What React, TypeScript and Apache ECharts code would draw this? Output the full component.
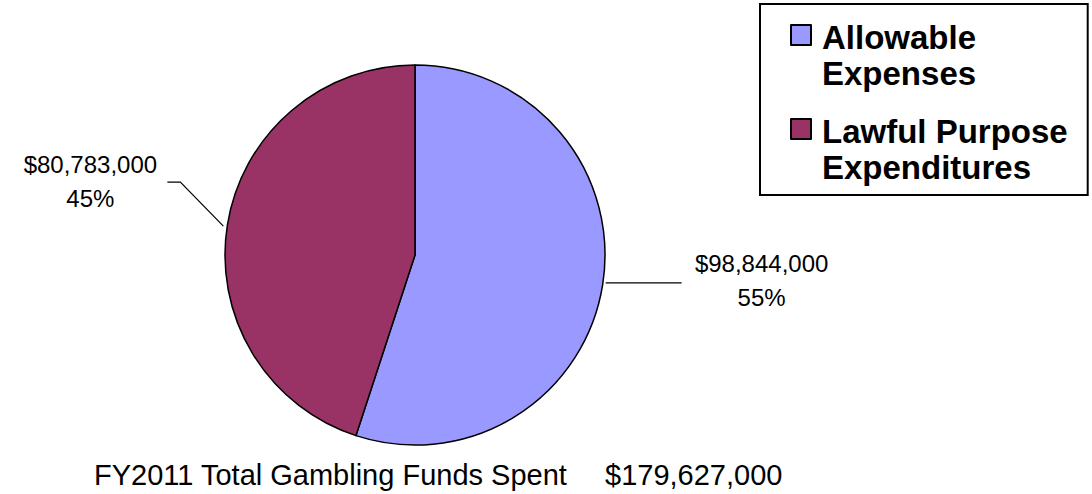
import React, { useEffect, useRef } from "react";
import * as echarts from "echarts";

const categories = ["Allowable Expenses", "Lawful Purpose Expenditures"];
const legendLabels = ["Allowable\nExpenses", "Lawful Purpose\nExpenditures"];
const values = [98844000, 80783000];
const colors = ["#9999FF", "#993366"];
const titleText = "FY2011 Total Gambling Funds Spent";

const fmt = (v: number) => v.toLocaleString("en-US");
const FONT = "Arial, 'Liberation Sans', sans-serif";

export default function App() {
  const ref = useRef<HTMLDivElement>(null);
  useEffect(() => {
    if (!ref.current) return;
    const chart = echarts.init(ref.current, undefined, { renderer: "svg" });
    const total = values.reduce((a, b) => a + b, 0);
    chart.setOption({
      animation: false,
      backgroundColor: "#fff",
      title: [
        {
          text: titleText,
          left: 94,
          top: 460,
          padding: 0,
          textStyle: { fontSize: 29, fontWeight: "normal", color: "#000", fontFamily: FONT, lineHeight: 29 },
        },
        {
          text: "$" + fmt(total),
          left: 605,
          top: 460,
          padding: 0,
          textStyle: { fontSize: 29, fontWeight: "normal", color: "#000", fontFamily: FONT, lineHeight: 29 },
        },
      ],
      legend: {
        orient: "vertical",
        left: 760,
        top: 4,
        padding: [14, 20, 9, 30],
        borderColor: "#000",
        borderWidth: 2,
        itemWidth: 20,
        itemHeight: 72,
        itemGap: 20,
        icon: "path://M0,0M0,6h20v20h-20zM0,72",
        itemStyle: { borderColor: "#000", borderWidth: 2 },
        textStyle: {
          fontSize: 33,
          fontWeight: "bold",
          fontFamily: FONT,
          lineHeight: 36,
          color: "#000",
          padding: [0, 0, 0, 6],
        },
        formatter: (name: string) => legendLabels[categories.indexOf(name)],
        selectedMode: false,
      },
      series: [
        {
          type: "pie",
          center: [415, 255],
          radius: 190,
          startAngle: 90,
          clockwise: true,
          data: categories.map((n, i) => ({ name: n, value: values[i], itemStyle: { color: colors[i] } })),
          itemStyle: { borderColor: "#000", borderWidth: 1.5 },
          emphasis: { disabled: true },
          label: {
            show: true,
            position: "outside",
            formatter: (p: any) => "$" + fmt(p.value) + "\n" + Math.round(p.percent) + "%",
            fontSize: 24,
            lineHeight: 34,
            color: "#000",
            fontFamily: FONT,
            align: "center",
          },
          labelLine: {
            show: true,
            length: 20,
            length2: 20,
            smooth: false,
            lineStyle: { color: "#000", width: 1.2 },
          },
          labelLayout: (params: any) => {
            const pts = params.labelLinePoints;
            const e = pts && pts[0] ? pts[0] : [0, 0];
            if (params.dataIndex === 0) {
              return {
                x: e[0] + 159,
                y: e[1] - 4,
                align: "center",
                verticalAlign: "middle",
                labelLinePoints: [[e[0] + 3, e[1] - 2], [e[0] + 40, e[1] - 2], [e[0] + 79, e[1] - 2]],
              };
            }
            return {
              x: e[0] - 137,
              y: e[1] - 44,
              align: "center",
              verticalAlign: "middle",
              labelLinePoints: [[e[0] - 4, e[1] + 1], [e[0] - 47, e[1] - 43], [e[0] - 60, e[1] - 43]],
            };
          },
        },
      ],
    });
    return () => chart.dispose();
  }, []);
  return (
    <div
      ref={ref}
      style={{ position: "absolute", left: 0, top: 0, width: 1092, height: 494 }}
    />
  );
}
